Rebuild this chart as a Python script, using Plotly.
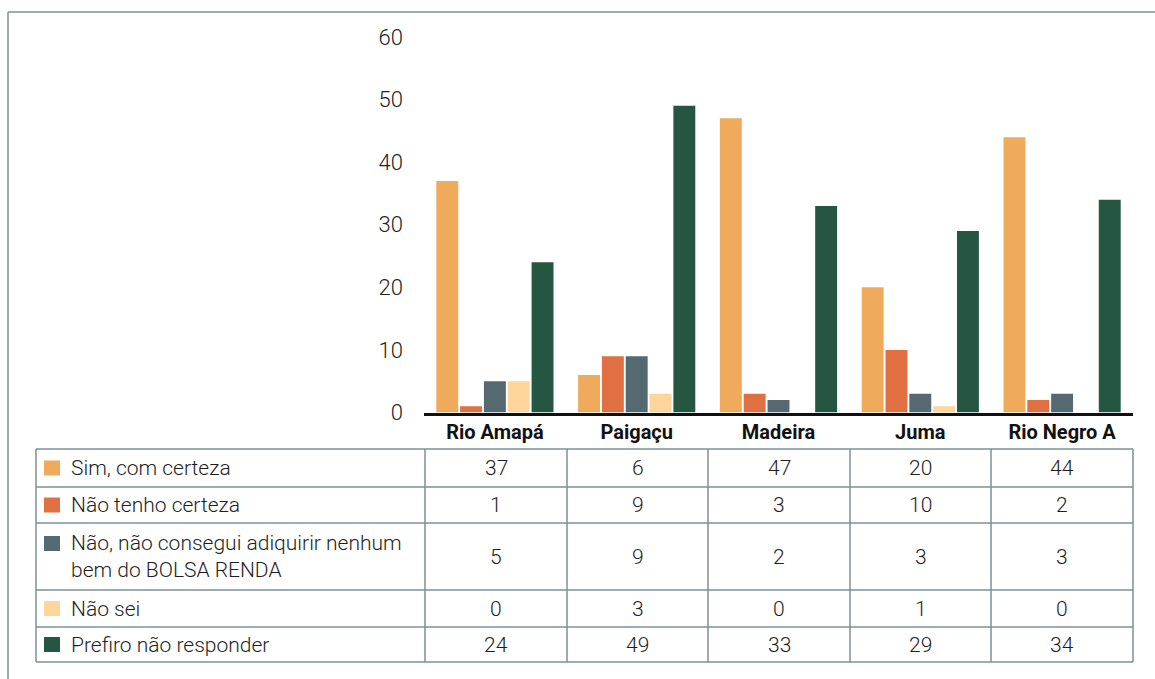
import plotly.graph_objects as go

# ---------------- data ----------------
categorias = ["Rio Amapá", "Paigaçu", "Madeira", "Juma", "Rio Negro A"]
series_nomes = [
    "Sim, com certeza",
    "Não tenho certeza",
    "Não, não consegui adiquirir nenhum<br>bem do BOLSA RENDA",
    "Não sei",
    "Prefiro não responder",
]
sim_com_certeza = [37, 6, 47, 20, 44]
nao_tenho_certeza = [1, 9, 3, 10, 2]
nao_consegui = [5, 9, 2, 3, 3]
nao_sei_barras = [5, 3, 0, 1, 0]      # as drawn in the bars
nao_sei_tabela = [0, 3, 0, 1, 0]      # as printed in the data table
prefiro_nao = [24, 49, 33, 29, 34]
y_ticks = [0, 10, 20, 30, 40, 50, 60]

barras = [sim_com_certeza, nao_tenho_certeza, nao_consegui, nao_sei_barras, prefiro_nao]
tabela = [sim_com_certeza, nao_tenho_certeza, nao_consegui, nao_sei_tabela, prefiro_nao]

# ---------------- style ----------------
cores = ["#F0AA5C", "#E07042", "#546A70", "#FED59A", "#255641"]
W, H = 1155, 679
FONT = "Roboto"
LINE = "#7D9096"

def px(x):
    return x / W

def py(y):
    return 1 - y / H

fig = go.Figure()
for nome, vals, cor in zip(series_nomes, barras, cores):
    fig.add_trace(go.Bar(x=categorias, y=vals, name=nome, marker_color=cor,
                         marker_line_width=0, showlegend=False))

plot_x0, plot_x1 = 424, 1133
plot_y0, plot_y1 = 412.5, 37

fig.update_layout(
    width=W, height=H, autosize=False,
    margin=dict(l=0, r=0, t=0, b=0, pad=0),
    paper_bgcolor="white", plot_bgcolor="white",
    barmode="group", bargap=0.16, bargroupgap=0.08,
    xaxis=dict(domain=[px(plot_x0), px(plot_x1)], showline=True, linecolor="#111111",
               linewidth=2.5, showgrid=False, ticks="", automargin=False,
               tickfont=dict(family=FONT, size=20, color="#111111", weight="bold")),
    yaxis=dict(domain=[py(plot_y0), py(plot_y1)], range=[0, 60], tickvals=y_ticks,
               showgrid=False, zeroline=False, showline=False, ticks="", automargin=False,
               ticklabelstandoff=20,
               tickfont=dict(family=FONT, size=22, color="#222222", weight=300)),
)

shapes = []
annots = []
# outer frame
shapes.append(dict(type="line", xref="paper", yref="paper", x0=px(8), x1=px(8),
                   y0=py(12), y1=py(H), line=dict(color=LINE, width=1.5)))
shapes.append(dict(type="line", xref="paper", yref="paper", x0=px(8), x1=px(W),
                   y0=py(12), y1=py(12), line=dict(color=LINE, width=1.5)))

# data table
row_edges = [449, 487, 523, 590, 627, 662]
col_edges = [36, 425, 567, 708, 850, 991, 1133]
for y in row_edges:
    shapes.append(dict(type="line", xref="paper", yref="paper", x0=px(col_edges[0]),
                       x1=px(col_edges[-1]), y0=py(y), y1=py(y),
                       line=dict(color=LINE, width=1.5)))
for x in col_edges:
    shapes.append(dict(type="line", xref="paper", yref="paper", x0=px(x), x1=px(x),
                       y0=py(row_edges[0]), y1=py(row_edges[-1]),
                       line=dict(color=LINE, width=1.5)))

for i, (nome, vals, cor) in enumerate(zip(series_nomes, tabela, cores)):
    yc = (row_edges[i] + row_edges[i + 1]) / 2
    multiline = "<br>" in nome
    sq_c = yc - 13 if multiline else yc
    shapes.append(dict(type="rect", xref="paper", yref="paper", x0=px(44), x1=px(60),
                       y0=py(sq_c - 7.5), y1=py(sq_c + 7.5), fillcolor=cor, line_width=0))
    annots.append(dict(x=px(69), y=py(yc), xref="paper", yref="paper", text=nome,
                       showarrow=False, xanchor="left", yanchor="middle", align="left",
                       font=dict(family=FONT, size=21, color="#1e1e1e", weight=300)))
    for j, v in enumerate(vals):
        xc = (col_edges[j + 1] + col_edges[j + 2]) / 2
        annots.append(dict(x=px(xc), y=py(yc), xref="paper", yref="paper", text=str(v),
                           showarrow=False, xanchor="center", yanchor="middle",
                           font=dict(family=FONT, size=21, color="#1e1e1e", weight=300)))

fig.update_layout(shapes=shapes, annotations=annots)
fig.write_html("out.html", config={"responsive": False, "displayModeBar": False},
               post_script="document.body.style.margin='0';document.body.style.overflow='hidden';")
